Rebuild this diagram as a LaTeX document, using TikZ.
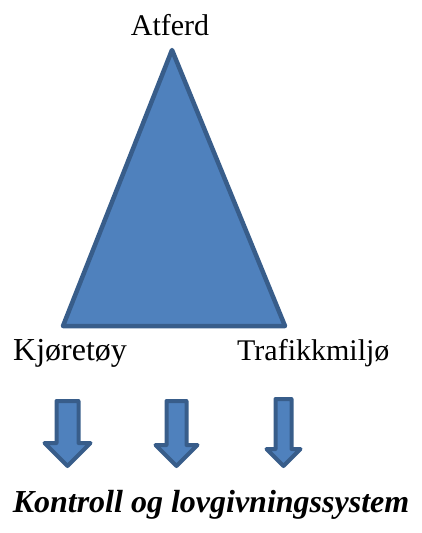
\documentclass[tikz,border=0pt]{standalone}
\usepackage{fontspec}
\setmainfont{Liberation Serif}
\definecolor{triFill}{HTML}{4F81BD}
\definecolor{triLine}{HTML}{385D8A}

\begin{document}
\begin{tikzpicture}[x=1pt, y=-1pt, font=\fontsize{30}{36}\selectfont,
  blue shape/.style={fill=triFill, draw=triLine, line width=4.5pt, line join=round},
  label text/.style={inner sep=0pt}]
\useasboundingbox (0,0) rectangle (422,533);
% triangle: behaviour at the top, vehicle and environment at the base
\coordinate (top) at (172,50);
\coordinate (left) at (63,326);
\coordinate (right) at (285,326);
\draw[blue shape] (top) -- (left) -- (right) -- cycle;
\node[label text, anchor=base] (atferd) at (170,35) {Atferd};
\node[label text, anchor=base west, font=\fontsize{32}{38}\selectfont] (kjoretoy) at (13,360) {Kjøretøy};
\node[label text, anchor=base west] (trafikk) at (237,360) {Trafikkmiljø};
% three block arrows: x / shaft half / head half / top / head base
\foreach \cx/\hw/\Hw/\ty/\hb in {67.5/11/23/401/443, 176.5/10/21/401/445, 283.5/8/17/399/449}
  \draw[blue shape, line width=4pt]
    (\cx-\hw,\ty) -- (\cx+\hw,\ty) -- (\cx+\hw,\hb) -- (\cx+\Hw,\hb)
    -- (\cx,466) -- (\cx-\Hw,\hb) -- (\cx-\hw,\hb) -- cycle;
\node[label text, anchor=base, font=\fontsize{32}{38}\selectfont\bfseries\itshape]
  (kontroll) at (211,512) {Kontroll og lovgivningssystem};
\end{tikzpicture}
\end{document}
